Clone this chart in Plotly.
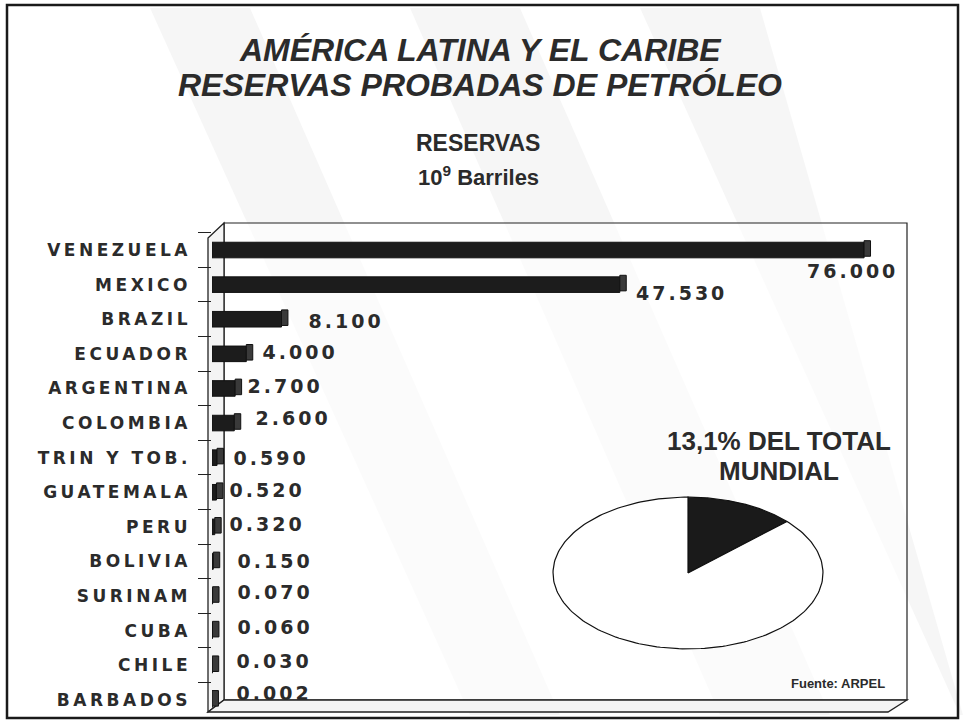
import numpy as np
import plotly.graph_objects as go

# ---------------- data ----------------
countries = ["VENEZUELA", "MEXICO", "BRAZIL", "ECUADOR", "ARGENTINA", "COLOMBIA",
             "TRIN Y TOB.", "GUATEMALA", "PERU", "BOLIVIA", "SURINAM", "CUBA",
             "CHILE", "BARBADOS"]
reserves = [76.000, 47.530, 8.100, 4.000, 2.700, 2.600,
            0.590, 0.520, 0.320, 0.150, 0.070, 0.060, 0.030, 0.002]
world_share_labels = ["América Latina y el Caribe", "Resto del mundo"]
world_share = [13.1, 86.9]

# styling only: label offsets (pixels) and the 3D bar depth (axis units)
label_dx = [27, 23, 32, 22, 18, 27, 22, 19, 20, 30, 30, 30, 30, 30]
label_dy = [-21, -8, -2, 2, 2, 5, 0, 2, 3, 0, 4, 4, 4, 7]
label_anchor = ["right"] + ["left"] * 13
bar_depth = 0.75

W, H = 963, 723
def X(px):
    return px / W
def Y(py):
    return 1 - py / H

INK = "#2b2b2b"
fig = go.Figure()

# bars (front face)
fig.add_trace(go.Bar(
    x=reserves, y=countries, orientation="h", width=0.45,
    marker=dict(color="#1c1c1c", line=dict(color="#111111", width=1)),
    hoverinfo="x+y", showlegend=False, xaxis="x", yaxis="y",
))
# 3D end cap of each bar
fig.add_trace(go.Bar(
    x=[bar_depth] * len(reserves), base=reserves, y=countries, orientation="h",
    width=0.45, offset=-0.27,
    marker=dict(color="#3a3a3a", line=dict(color="#111111", width=1)),
    hoverinfo="skip", showlegend=False, xaxis="x", yaxis="y",
))

# value labels
annotations = []
for c, v, dx, dy, anc in zip(countries, reserves, label_dx, label_dy, label_anchor):
    annotations.append(dict(
        x=v, y=c, xref="x", yref="y", text=f"{v:.3f}", showarrow=False,
        xanchor=anc, yanchor="middle", xshift=dx, yshift=dy,
        font=dict(family="DejaVu Sans", size=19, color=INK, weight="bold"),
    ))

# pie drawn as ellipse on its own axes
share_frac = np.array(world_share) / sum(world_share)
starts = np.concatenate([[0], np.cumsum(share_frac)[:-1]])
fills = ["#1a1a1a", "#ffffff"]
for lab, s0, fr, fc in zip(world_share_labels, starts, share_frac, fills):
    t = np.linspace(s0 * 2 * np.pi, (s0 + fr) * 2 * np.pi, 200)
    px_ = np.concatenate([[0], np.sin(t), [0]])
    py_ = np.concatenate([[0], np.cos(t), [0]])
    fig.add_trace(go.Scatter(
        x=px_, y=py_, mode="lines", fill="toself", fillcolor=fc,
        line=dict(color="#111111", width=1.2), name=lab, showlegend=False,
        xaxis="x2", yaxis="y2", hoverinfo="name",
    ))

# ---------------- shapes (3D box, border, scan streaks) ----------------
shapes = []
def poly(pts, fill="rgba(0,0,0,0)", line="#222", lw=1.2, layer="below"):
    path = "M " + " L ".join(f"{X(a):.5f},{Y(b):.5f}" for a, b in pts) + " Z"
    shapes.append(dict(type="path", path=path, xref="paper", yref="paper",
                       fillcolor=fill, line=dict(color=line, width=lw), layer=layer))

# faint diagonal streaks from the scan
for (a, b, c, d) in [(150, 250, 470, 560), (410, 520, 720, 830), (640, 760, 960, 963)]:
    poly([(a, 8), (b, 8), (d, 715), (c, 715)], fill="rgba(200,200,200,0.16)",
         line="rgba(0,0,0,0)", lw=0)

# back wall
poly([(224, 223), (907, 223), (907, 700), (224, 700)], fill="rgba(255,255,255,0.6)", lw=1.2)
# left wall
poly([(208, 238), (224, 223), (224, 700), (208, 712)], fill="#f4f4f4", lw=1.3)
# floor
poly([(208, 712), (224, 700), (907, 700), (888, 712)], fill="#f4f4f4", lw=1.3)
# outer border
shapes.append(dict(type="rect", xref="paper", yref="paper",
                   x0=X(7), x1=X(958), y0=Y(718), y1=Y(5),
                   line=dict(color="#1a1a1a", width=2.5), layer="above"))

# ---------------- texts ----------------
def txt(x, y, text, size, xanchor="center"):
    return dict(x=X(x), y=Y(y), xref="paper", yref="paper", showarrow=False,
                text=text, xanchor=xanchor, yanchor="middle",
                font=dict(family="Liberation Sans", size=size, color=INK, weight="bold"))

annotations += [
    txt(480, 50, "<i>AMÉRICA LATINA Y EL CARIBE</i>", 32),
    txt(480, 85, "<i>RESERVAS PROBADAS DE PETRÓLEO</i>", 32),
    txt(478, 143, "RESERVAS", 23),
    txt(478, 176, "10<sup>9</sup> Barriles", 22),
    txt(779, 441, "13,1% DEL TOTAL", 26),
    txt(779, 471, "MUNDIAL", 26),
    txt(887, 683, "Fuente: ARPEL", 13, xanchor="right"),
]

fig.update_layout(
    width=W, height=H, autosize=False,
    margin=dict(l=0, r=0, t=0, b=0),
    paper_bgcolor="#ffffff", plot_bgcolor="rgba(0,0,0,0)",
    showlegend=False, barmode="overlay",
    xaxis=dict(domain=[X(212), X(907)], range=[0, 81], visible=False,
               fixedrange=True),
    yaxis=dict(domain=[Y(712), Y(222)], type="category",
               categoryorder="array", categoryarray=countries,
               range=[13.35, -0.81], showgrid=False, zeroline=False,
               showline=False, ticks="outside", ticklen=13, tickwidth=1.2,
               tickcolor="#222", tickson="boundaries", ticklabelstandoff=20,
               tickfont=dict(family="DejaVu Sans", size=17, color=INK, weight="bold")),
    xaxis2=dict(domain=[X(551), X(825)], range=[-1.015, 1.015], visible=False,
                anchor="y2"),
    yaxis2=dict(domain=[Y(650), Y(496)], range=[-1.015, 1.015], visible=False,
                anchor="x2"),
    shapes=shapes,
    annotations=annotations,
)

post = (
    "document.body.style.margin='0';"
    "document.querySelectorAll('.ytick text').forEach(function(t){t.style.letterSpacing='3.5px';});"
    "document.querySelectorAll('.annotation-text').forEach(function(t){"
    "if(/^\\d+\\.\\d{3}$/.test(t.textContent)){t.style.letterSpacing='3px';}});"
)
fig.write_html("out.html", config={"displayModeBar": False}, post_script=post)
